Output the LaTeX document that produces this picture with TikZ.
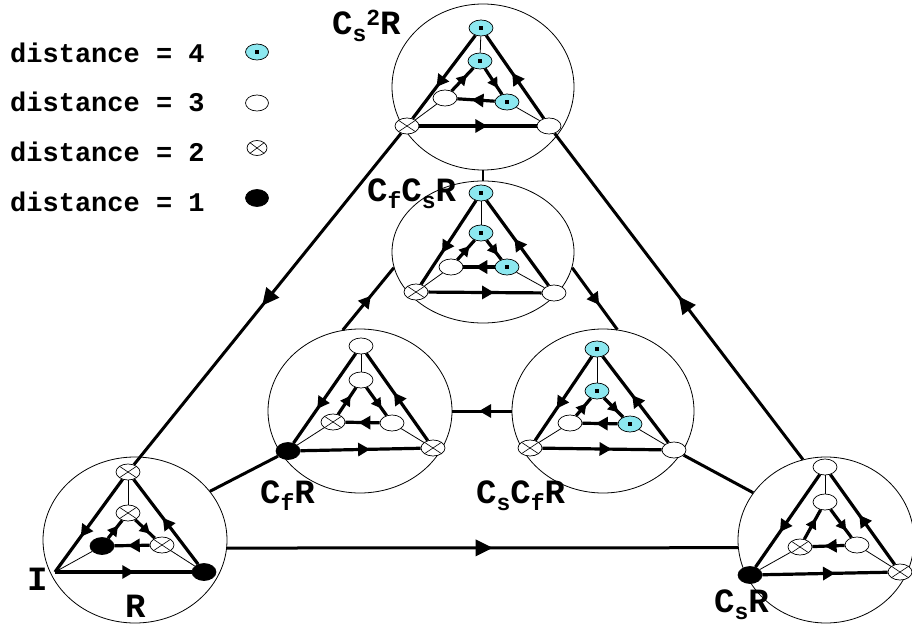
\documentclass[tikz,border=0pt]{standalone}
\usepackage{fontspec}
\newfontfamily\cour{Liberation Mono}
\usetikzlibrary{shapes.geometric,arrows.meta,decorations.markings}
\definecolor{dcyan}{RGB}{140,232,240}
\pgfdeclarelayer{bg}
\pgfsetlayers{bg,main}
\newcommand\sbx[1]{\raisebox{-7pt}{\fontsize{23}{23}\selectfont #1}}
\newcommand\spx[1]{\raisebox{9pt}{\fontsize{23}{23}\selectfont #1}}
\tikzset{
  sn/.style={ellipse, draw, line width=0.7pt, minimum width=24pt, minimum height=16pt, inner sep=0pt},
  d4/.style={sn, fill=dcyan, path picture={\fill[black] ([xshift=-2.3pt,yshift=-2.3pt]path picture bounding box.center) rectangle ([xshift=2.3pt,yshift=2.3pt]path picture bounding box.center);}},
  d3/.style={sn, fill=white},
  d2/.style={sn, fill=white, path picture={\draw[line width=0.6pt] (path picture bounding box.south west) -- (path picture bounding box.north east) (path picture bounding box.north west) -- (path picture bounding box.south east);}},
  d1/.style={sn, fill=black, minimum height=17pt},
  bigc/.style={ellipse, draw, line width=0.8pt, inner sep=0pt},
  thk/.style={line width=3.2pt},
  bthk/.style={line width=3pt},
  thn/.style={line width=0.8pt},
  marr/.style={postaction={decorate}, decoration={markings, mark=at position #1 with {\arrow{Triangle[length=12pt,width=13pt]}}}},
  sarr/.style={postaction={decorate}, decoration={markings, mark=at position #1 with {\arrow{Triangle[length=10pt,width=11pt]}}}},
  barr/.style={postaction={decorate}, decoration={markings, mark=at position #1 with {\arrow{Triangle[length=17pt,width=16pt]}}}},
  lab/.style={font=\cour\bfseries\fontsize{34}{34}\selectfont, anchor=base west, inner sep=0pt},
  leg/.style={font=\cour\bfseries\fontsize{27}{27}\selectfont, anchor=base west, inner sep=0pt},
}
\newcommand\sedges[1]{%
  \draw[thk, marr=0.62] (#1T) -- (#1BL);
  \draw[thk, marr=0.55] (#1BR) -- (#1T);
  \draw[thk, marr=0.58] (#1BL) -- (#1BR);
  \draw[thn] (#1T) -- (#1M);
  \draw[thk, sarr=0.75] (#1M) -- (#1IR);
  \draw[thk, marr=0.62] (#1IR) -- (#1IL);
  \draw[thk, sarr=0.7] (#1IL) -- (#1M);
  \draw[thn] (#1IL) -- (#1BL);
  \draw[thn] (#1IR) -- (#1BR);
}
\begin{document}
\begin{tikzpicture}[x=1pt,y=-1pt]
\useasboundingbox (0,0) rectangle (912,628);
% big circles
\node[bigc, minimum width=182pt, minimum height=166pt] (ac) at (483,87) {};
\node[bigc, minimum width=182pt, minimum height=142pt] (bc) at (483,252) {};
\node[bigc, minimum width=184pt, minimum height=164pt] (cc) at (360,411) {};
\node[bigc, minimum width=182pt, minimum height=164pt] (dc) at (603,411) {};
\node[bigc, minimum width=184pt, minimum height=166pt] (ec) at (135,540) {};
\node[bigc, minimum width=176pt, minimum height=166pt] (fc) at (826,540) {};
% top diagram
\node[d4] (aT) at (481,28) {};
\node[d4] (aM) at (480,61) {};
\node[d4] (aIR) at (507,102) {};
\node[d3] (aIL) at (445,98) {};
\node[d2] (aBL) at (407,126) {};
\node[d3] (aBR) at (549,126) {};
% middle diagram
\node[d4] (bT) at (481,193) {};
\node[d4] (bM) at (481,233) {};
\node[d4] (bIR) at (507,267) {};
\node[d3] (bIL) at (451,267) {};
\node[d2] (bBL) at (416,292) {};
\node[d3] (bBR) at (554,293) {};
% CfR diagram
\node[d3] (cT) at (361,346) {};
\node[d3] (cM) at (361,380) {};
\node[d3] (cIR) at (392,423) {};
\node[d2] (cIL) at (333,422) {};
\node[d1] (cBL) at (288,451) {};
\node[d2] (cBR) at (433,448) {};
% CsCfR diagram
\node[d4] (dT) at (597,349) {};
\node[d4] (dM) at (597,391) {};
\node[d4] (dIR) at (630,424) {};
\node[d3] (dIL) at (570,423) {};
\node[d2] (dBL) at (530,448) {};
\node[d3] (dBR) at (674,450) {};
% bottom-left diagram
\node[d2] (eT) at (128,472) {};
\node[d2] (eM) at (128,513) {};
\node[d2] (eIR) at (162,545) {};
\node[d1] (eIL) at (102,546) {};
\coordinate (eBL) at (55,572);
\node[d1] (eBR) at (204,572) {};
% bottom-right diagram
\node[d3] (fT) at (825,467) {};
\node[d3] (fM) at (825,502) {};
\node[d3] (fIR) at (857,545) {};
\node[d2] (fIL) at (800,547) {};
\node[d1] (fBL) at (750,575) {};
\node[d2] (fBR) at (900,572) {};
% legend
\node[leg] (l4) at (10,63) {distance = 4};
\node[leg] (l3) at (10,112) {distance = 3};
\node[leg] (l2) at (10,162) {distance = 2};
\node[leg] (l1) at (10,212) {distance = 1};
\node[d4, minimum width=23pt] (s4) at (257,52) {};
\node[d3, minimum width=23pt] (s3) at (257,103) {};
\node[d2, minimum width=20pt, minimum height=15pt] (s2) at (257,148) {};
\node[d1, minimum width=23pt] (s1) at (257,198) {};
% labels
\node[lab] (la) at (332,35) {C\sbx{s}\spx{2}R};
\node[lab] (lb) at (367,202) {C\sbx{f}C\sbx{s}R};
\node[lab] (lc) at (260,503) {C\sbx{f}R};
\node[lab] (ld) at (476,503) {C\sbx{s}C\sbx{f}R};
\node[lab] (lf) at (714,612) {C\sbx{s}R};
\node[lab] (lI) at (27,590) {I};
\node[lab] (lR) at (125,617) {R};
\begin{pgfonlayer}{bg}
\sedges{a}
\sedges{b}
\sedges{c}
\sedges{d}
\sedges{e}
\sedges{f}
% connectors between circles
\draw[bthk, barr=0.52] (aBL) -- (eT);
\draw[bthk, barr=0.5] (fc.106) -- (aBR);
\draw[bthk, barr=0.52] (ec.-5) -- (fc.185);
\draw[line width=2pt] (ac) -- (bc);
\draw[bthk, marr=0.55] (cc.102) -- (bc.190);
\draw[bthk, marr=0.6] (bc.-10) -- (dc.80);
\draw[bthk, marr=0.55] (dc.180) -- (cc.0);
\draw[bthk] (ec.33) -- (cBL);
\draw[bthk] (dBR) -- (fc.147);
\end{pgfonlayer}
\end{tikzpicture}
\end{document}
